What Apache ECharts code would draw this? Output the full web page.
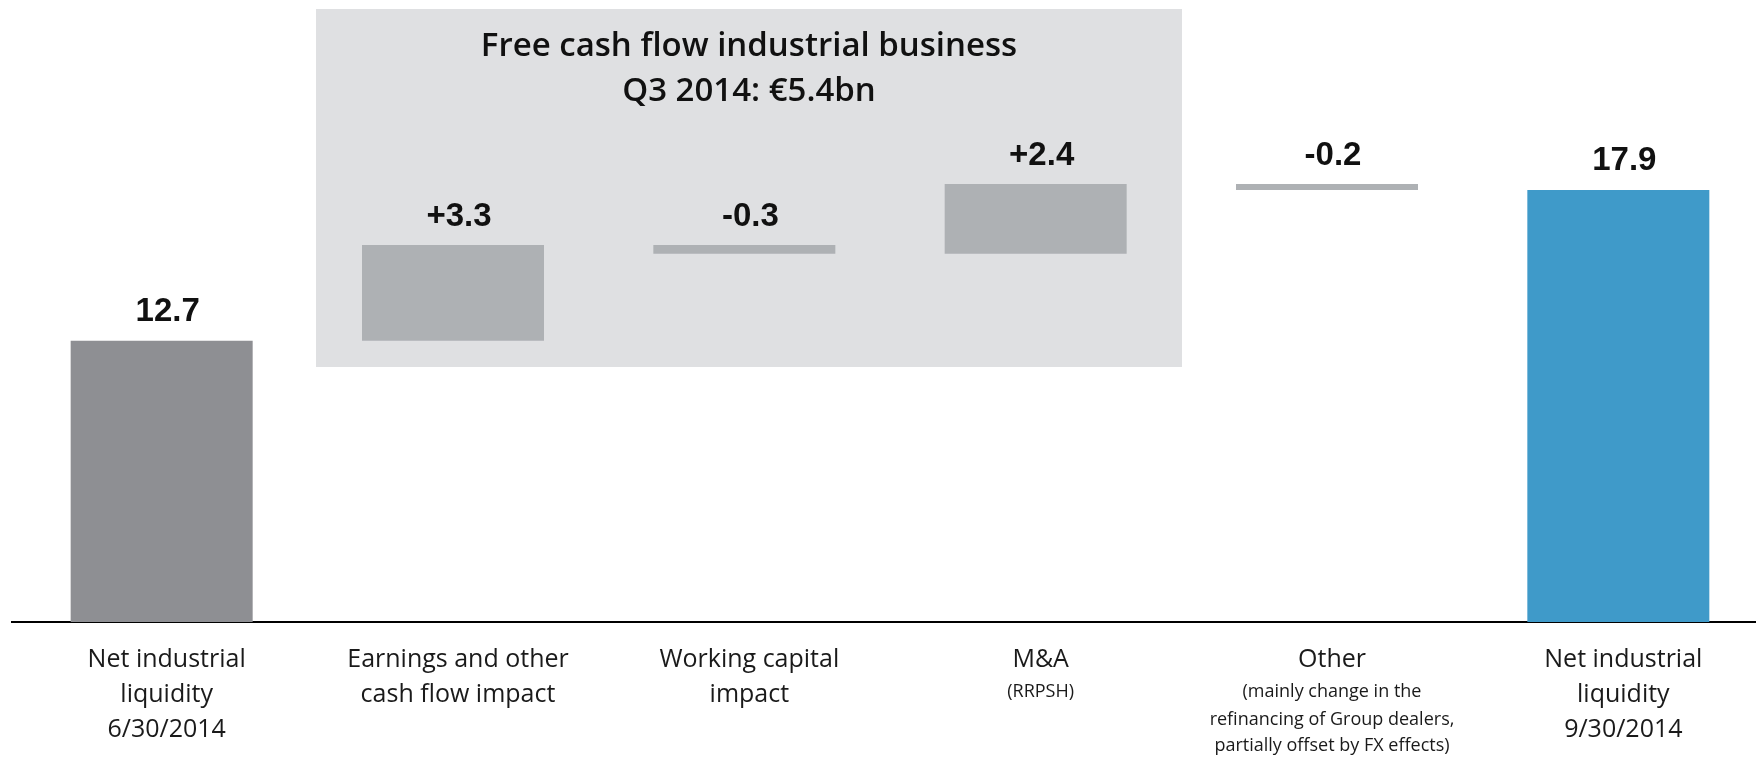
<!DOCTYPE html>
<html>
<head>
<meta charset="utf-8">
<script src="https://cdn.jsdelivr.net/npm/echarts@6/dist/echarts.min.js"></script>
<style>
  html, body { margin: 0; padding: 0; background: #ffffff; }
  #chart { width: 1756px; height: 759px; }
</style>
</head>
<body>
<div id="chart"></div>
<script>
// ---- data ----
const categories = [
  'Net industrial\nliquidity\n6/30/2014',
  'Earnings and other\ncash flow impact',
  'Working capital\nimpact',
  'M&A',
  'Other',
  'Net industrial\nliquidity\n9/30/2014'
];
const notes = [
  '',
  '',
  '',
  '(RRPSH)',
  '(mainly change in the\nrefinancing of Group dealers,\npartially offset by FX effects)',
  ''
];
const startValue = 12.7;               // 6/30/2014
const changes = [3.3, -0.3, 2.4, -0.2]; // earnings, working capital, M&A, other
const endValue = 17.9;                 // 9/30/2014
const boxTitle = 'Free cash flow industrial business\nQ3 2014: €5.4bn';

// ---- build waterfall ----
const baseData = [0];
const barData = [{ value: startValue, itemStyle: { color: '#8e8f93' } }];
const labelTexts = [startValue.toFixed(1)];
let level = startValue;
changes.forEach(function (c) {
  const next = level + c;
  baseData.push(Math.min(level, next));
  barData.push({ value: Math.abs(c), itemStyle: { color: '#aeb1b4' } });
  labelTexts.push((c > 0 ? '+' : '') + c.toFixed(1));
  level = next;
});
baseData.push(0);
barData.push({ value: endValue, itemStyle: { color: '#3f9ac9' } });
labelTexts.push(endValue.toFixed(1));

const chart = echarts.init(document.getElementById('chart'), null, { renderer: 'canvas' });

const FONT = '"Open Sans", "Noto Sans", sans-serif';

chart.setOption({
  animation: false,
  backgroundColor: '#ffffff',
  grid: { left: 16, width: 1748, top: 129, height: 493, containLabel: false, outerBoundsMode: 'none' },
  graphic: [
    {
      type: 'rect',
      z: 0,
      silent: true,
      shape: { x: 316, y: 9, width: 866, height: 358 },
      style: { fill: '#dfe0e2' }
    },
    {
      type: 'text',
      z: 1,
      silent: true,
      style: {
        text: boxTitle,
        x: 749,
        y: 24,
        align: 'center',
        verticalAlign: 'top',
        lineHeight: 45,
        font: '600 33px ' + FONT,
        fill: '#111111'
      }
    },
    {
      type: 'line',
      z: 3,
      silent: true,
      shape: { x1: 11, y1: 622, x2: 17, y2: 622 },
      style: { stroke: '#000000', lineWidth: 2 }
    }
  ],
  xAxis: {
    type: 'category',
    data: categories,
    axisTick: { show: false },
    axisLine: { show: true, lineStyle: { color: '#000000', width: 2 } },
    axisLabel: {
      interval: 0,
      margin: 20,
      color: '#1a1a1a',
      padding: [0, 0, 0, 10],
      formatter: function (value, idx) {
        let parts = value.split('\n').map(function (l) { return '{m|' + l + '}'; });
        if (notes[idx]) {
          notes[idx].split('\n').forEach(function (l, j) {
            parts.push((j === 0 ? '{s1|' : '{s|') + l + '}');
          });
        }
        return parts.join('\n');
      },
      rich: {
        m: { fontSize: 25, lineHeight: 35, fontFamily: FONT, color: '#1a1a1a' },
        s1: { fontSize: 18, lineHeight: 30, fontFamily: FONT, color: '#1a1a1a' },
        s: { fontSize: 18, lineHeight: 26, fontFamily: FONT, color: '#1a1a1a' }
      }
    }
  },
  yAxis: {
    type: 'value',
    min: 3,
    max: 20,
    show: false,
    splitLine: { show: false }
  },
  series: [
    {
      name: 'base',
      type: 'bar',
      stack: 'w',
      silent: true,
      barWidth: 182,
      itemStyle: { color: 'rgba(0,0,0,0)' },
      emphasis: { disabled: true },
      data: baseData,
      z: 2
    },
    {
      name: 'value',
      type: 'bar',
      stack: 'w',
      barWidth: 182,
      clip: true,
      data: barData,
      z: 2,
      label: {
        show: true,
        position: 'top',
        distance: 12,
        offset: [6, 0],
        fontFamily: '"Liberation Sans", Arial, sans-serif',
        fontWeight: 'bold',
        fontSize: 33,
        color: '#111111',
        formatter: function (p) { return labelTexts[p.dataIndex]; }
      }
    }
  ]
});
</script>
</body>
</html>
